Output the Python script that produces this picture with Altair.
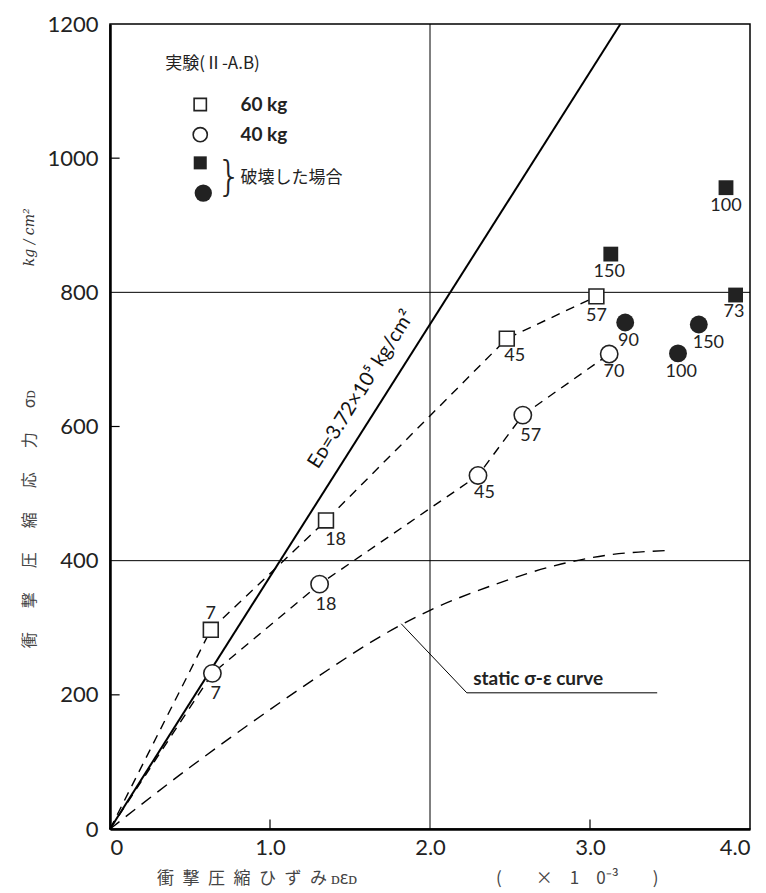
import altair as alt
import pandas as pd

# ---- data ----
sq_x = [0.63, 1.35, 2.48, 3.04]
sq_y = [297, 460, 731, 794]
sq_lbl = ["7", "18", "45", "57"]
sq_lx = [0.63, 1.41, 2.53, 3.04]
sq_ly = [321, 431, 705, 765]

ci_x = [0.64, 1.31, 2.30, 2.58, 3.12]
ci_y = [232, 365, 527, 617, 708]
ci_lbl = ["7", "18", "45", "57", "70"]
ci_lx = [0.66, 1.35, 2.34, 2.63, 3.15]
ci_ly = [201, 334, 501, 586, 681]

fsq_x = [3.13, 3.91, 3.85]
fsq_y = [857, 796, 956]
fsq_lbl = ["150", "73", "100"]
fsq_lx = [3.12, 3.90, 3.85]
fsq_ly = [830, 771, 929]

fci_x = [3.22, 3.68, 3.55]
fci_y = [755, 752, 709]
fci_lbl = ["90", "150", "100"]
fci_lx = [3.24, 3.74, 3.57]
fci_ly = [727, 725, 681]

ed_x = [0, 3.19]
ed_y = [0, 1200]

static_x = [0, 0.5, 1.0, 1.38, 1.69, 2.0, 2.4, 2.82, 3.1, 3.47]
static_y = [0, 92, 178, 240, 287, 326, 364, 395, 408, 415]

grid_y = [400, 800]
grid_x = [2.0]
ytick_vals = [200, 600, 1000]
xtick_vals = [1.0, 3.0]

leader_x = [1.82, 2.23, 3.42]
leader_y = [306, 203, 203]

FONT = "Lato"
JP = "Noto Sans CJK JP"
EN = "\u2002"
IS = "\u3000"

xs = alt.Scale(domain=[0, 4], nice=False, zero=False)
ys = alt.Scale(domain=[0, 1200], nice=False)

X_AXIS = alt.Axis(
    values=[0, 1, 2, 3, 4], labelExpr="datum.value == 0 ? '0' : format(datum.value, '.1f')",
    ticks=False, grid=False, title=None, labelFont=FONT, labelFontSize=22,
    labelColor="#222", labelPadding=8, domainColor="black", domainWidth=2.5, labelFlush=True)
Y_AXIS = alt.Axis(
    values=[0, 200, 400, 600, 800, 1000, 1200], format="d", ticks=False, grid=False, title=None,
    labelFont=FONT, labelFontSize=22, labelColor="#222", labelPadding=12,
    domainColor="black", domainWidth=2.5)

def X(field="x"):
    return alt.X(f"{field}:Q", scale=xs, axis=X_AXIS)

def Y(field="y"):
    return alt.Y(f"{field}:Q", scale=ys, axis=Y_AXIS)

grid_h = alt.Chart(pd.DataFrame({"y": grid_y})).mark_rule(color="black", strokeWidth=1).encode(y=Y())
grid_v = alt.Chart(pd.DataFrame({"x": grid_x})).mark_rule(color="black", strokeWidth=1).encode(x=X())

ytk = alt.Chart(pd.DataFrame({"y": ytick_vals, "x": [0] * 3, "x2": [0.06] * 3})).mark_rule(
    color="black", strokeWidth=1.2).encode(x=X(), x2="x2:Q", y=Y())
xtk = alt.Chart(pd.DataFrame({"x": xtick_vals, "y": [0] * 2, "y2": [14] * 2})).mark_rule(
    color="black", strokeWidth=1.2).encode(x=X(), y=Y(), y2="y2:Q")

# lines
ed_line = alt.Chart(pd.DataFrame({"x": ed_x, "y": ed_y})).mark_line(
    color="black", strokeWidth=2).encode(x=X(), y=Y())

c60 = pd.DataFrame({"x": [0] + sq_x, "y": [0] + sq_y})
c40 = pd.DataFrame({"x": [0] + ci_x, "y": [0] + ci_y})
line60 = alt.Chart(c60).mark_line(color="black", strokeWidth=1.4, strokeDash=[9, 7]).encode(x=X(), y=Y())
line40 = alt.Chart(c40).mark_line(color="black", strokeWidth=1.4, strokeDash=[9, 7]).encode(x=X(), y=Y())
static_line = alt.Chart(pd.DataFrame({"x": static_x, "y": static_y})).mark_line(
    color="black", strokeWidth=1.4, strokeDash=[12, 8], interpolate="monotone").encode(x=X(), y=Y())

leader = alt.Chart(pd.DataFrame({"x": leader_x, "y": leader_y, "o": [0, 1, 2]})).mark_line(
    color="black", strokeWidth=1).encode(x=X(), y=Y(), order="o:Q")

# markers
def pts(xv, yv, shape, filled, size):
    df = pd.DataFrame({"x": xv, "y": yv})
    if filled:
        m = alt.Chart(df).mark_point(shape=shape, filled=True, color="#222", size=size, opacity=1)
    else:
        m = alt.Chart(df).mark_point(shape=shape, filled=True, fill="white", stroke="#222",
                                     strokeWidth=1.6, size=size, opacity=1)
    return m.encode(x=X(), y=Y())

m_sq = pts(sq_x, sq_y, "square", False, 220)
m_ci = pts(ci_x, ci_y, "circle", False, 300)
m_fsq = pts(fsq_x, fsq_y, "square", True, 220)
m_fci = pts(fci_x, fci_y, "circle", True, 320)

def labels(lx, ly, txt):
    df = pd.DataFrame({"x": lx, "y": ly, "t": txt})
    return alt.Chart(df).mark_text(font=FONT, fontSize=18, color="#222", baseline="middle",
                                   align="center").encode(x=X(), y=Y(), text="t:N")

l_sq = labels(sq_lx, sq_ly, sq_lbl)
l_ci = labels(ci_lx, ci_ly, ci_lbl)
l_fsq = labels(fsq_lx, fsq_ly, fsq_lbl)
l_fci = labels(fci_lx, fci_ly, fci_lbl)

# annotation texts
ann = pd.DataFrame({
    "x": [1.57], "y": [655], "t": ["Eᴅ=3.72×10⁵ kg/cm²"]})
ed_text = alt.Chart(ann).mark_text(font=FONT, fontSize=20, angle=302, color="#111",
                                   align="center", baseline="middle").encode(x=X(), y=Y(), text="t:N")

st_text = alt.Chart(pd.DataFrame({"x": [2.27], "y": [214], "t": ["static σ-ε curve"]})).mark_text(
    font=FONT, fontSize=19, fontWeight="bold", color="#222", align="left", baseline="alphabetic"
).encode(x=X(), y=Y(), text="t:N")

# legend
leg_open_sq = pts([0.564], [1080], "square", False, 150)
leg_open_ci = pts([0.564], [1035], "circle", False, 200)
leg_f_sq = pts([0.564], [993], "square", True, 170)
leg_f_ci = pts([0.583], [948], "circle", True, 300)

leg_txt = alt.Chart(pd.DataFrame({
    "x": [0.815, 0.815], "y": [1080, 1035], "t": ["60 kg", "40 kg"]})).mark_text(
    font=FONT, fontSize=19, fontWeight="bold", color="#222", align="left", baseline="middle"
).encode(x=X(), y=Y(), text="t:N")
leg_title = alt.Chart(pd.DataFrame({"x": [0.345], "y": [1140], "t": ["実験(Ⅱ-A.B)"]})).mark_text(
    font=JP, fontSize=17, color="#222", align="left", baseline="middle").encode(x=X(), y=Y(), text="t:N")
leg_brace = alt.Chart(pd.DataFrame({"x": [0.745], "y": [970], "t": ["}"]})).mark_text(
    font="DejaVu Sans", fontSize=40, fontWeight=200, color="#222", align="center", baseline="middle"
).encode(x=X(), y=Y(), text="t:N")
leg_break = alt.Chart(pd.DataFrame({"x": [0.815], "y": [970], "t": ["破壊した場合"]})).mark_text(
    font=JP, fontSize=17, color="#222", align="left", baseline="middle").encode(x=X(), y=Y(), text="t:N")

# axis titles as text
sep = IS + EN
ytitle_txt = sep.join(["衝", "撃", "圧", "縮", "応", "力", "σᴅ"])
ytitle = alt.Chart(pd.DataFrame({"x": [-0.50], "y": [462], "t": [ytitle_txt]})).mark_text(
    font=JP, fontSize=16, angle=270, color="#444", align="center", baseline="middle"
).encode(x=X(), y=Y(), text="t:N")
yunit = alt.Chart(pd.DataFrame({"x": [-0.50], "y": [882], "t": ["kg / cm²"]})).mark_text(
    font="DejaVu Serif", fontSize=14, fontStyle="italic", angle=270, color="#333",
    align="center", baseline="middle"
).encode(x=X(), y=Y(), text="t:N")
xt1 = EN.join(["衝", "撃", "圧", "縮", "ひ", "ず", "み"]) + " ᴅεᴅ"
xt2 = "(" + IS * 2 + "×" + EN * 2 + "1" + EN * 2 + "0⁻³" + IS * 2 + ")"
xtitle = alt.Chart(pd.DataFrame({"x": [0.92, 2.92], "y": [-75, -75], "t": [xt1, xt2]})).mark_text(
    font=JP, fontSize=17, color="#444", align="center", baseline="middle"
).encode(x=X(), y=Y(), text="t:N")

chart = alt.layer(
    grid_h, grid_v, ytk, xtk, static_line, leader, line60, line40, ed_line,
    m_sq, m_ci, m_fsq, m_fci, l_sq, l_ci, l_fsq, l_fci, ed_text, st_text,
    leg_open_sq, leg_open_ci, leg_f_sq, leg_f_ci, leg_txt, leg_title, leg_brace, leg_break,
    ytitle, yunit, xtitle,
).properties(
    width=640, height=805,
    autosize=alt.AutoSizeParams(type="none"),
    padding={"left": 102, "top": 16, "right": 8, "bottom": 60},
).configure_view(stroke="black", strokeWidth=1.5)

chart.save("out.html", embed_options={"renderer": "svg", "actions": False})
